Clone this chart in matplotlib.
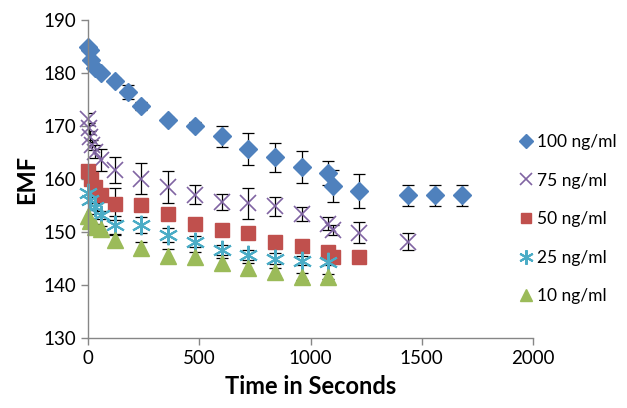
import numpy as np
import matplotlib.pyplot as plt

plt.rcParams['font.family'] = ['Lato', 'DejaVu Sans']

# 100 ng/ml
t100 = [0, 10, 15, 30, 60, 120, 180, 240, 360, 480, 600, 720, 840, 960, 1080, 1100, 1220, 1440, 1560, 1680]
emf100 = [185.0, 184.3, 182.5, 180.9, 180.0, 178.5, 176.5, 173.8, 171.1, 170.1, 168.1, 165.7, 164.1, 162.3,
          161.2, 158.7, 157.8, 156.9, 156.9, 156.9]
err100 = [0.4, 0.4, 0.4, 0.4, 0.4, 0.5, 1.3, 0.8, 0.6, 0.6, 2.0, 3.0, 2.7, 3.0, 2.3, 3.0, 3.2, 2.0, 2.0, 2.0]

# 75 ng/ml
t75 = [0, 5, 10, 20, 30, 60, 120, 240, 360, 480, 600, 720, 840, 960, 1080, 1100, 1220, 1440]
emf75 = [171.4, 169.6, 168.0, 166.4, 165.2, 163.6, 161.7, 160.1, 158.5, 157.0, 155.7, 155.4, 154.9, 153.4,
         151.6, 150.4, 149.9, 148.2]
err75 = [1.1, 1.0, 1.0, 1.0, 1.2, 2.0, 2.5, 3.0, 3.0, 1.8, 1.5, 2.9, 1.8, 1.4, 1.3, 1.0, 2.0, 1.6]

# 50 ng/ml
t50 = [0, 15, 30, 60, 120, 240, 360, 480, 600, 720, 840, 960, 1080, 1100, 1220]
emf50 = [161.5, 160.1, 158.5, 157.0, 155.3, 155.1, 153.5, 151.6, 150.4, 149.9, 148.2, 147.3, 146.3, 145.3, 145.3]
err50 = [0.5, 0.5, 0.5, 0.5, 3.0, 1.0, 1.0, 1.0, 0.8, 0.8, 0.5, 0.5, 0.5, 0.5, 0.5]

# 25 ng/ml
t25 = [0, 10, 30, 60, 120, 240, 360, 480, 600, 720, 840, 960, 1080]
emf25 = [157.3, 156.0, 154.8, 153.2, 151.4, 151.3, 149.4, 148.2, 146.6, 145.7, 145.0, 144.6, 144.4]
err25 = [0.6, 0.6, 0.6, 0.8, 1.7, 1.5, 1.3, 1.0, 1.0, 1.0, 1.0, 0.8, 0.6]

# 10 ng/ml
t10 = [0, 10, 30, 60, 120, 240, 360, 480, 600, 720, 840, 960, 1080]
emf10 = [153.0, 152.0, 151.0, 150.6, 148.5, 146.9, 145.5, 145.3, 144.1, 143.2, 142.5, 141.6, 141.6]
err10 = [0.5, 0.5, 0.5, 0.5, 1.0, 1.3, 1.3, 1.0, 1.0, 1.0, 0.8, 0.6, 0.5]

fig = plt.figure(figsize=(6.27, 4.08), dpi=100)
ax = fig.add_axes([0.1404, 0.1716, 0.7097, 0.779])

asterisk = (6, 2, 0)
series = [
    (t100, emf100, err100, "100 ng/ml", "#4F81BD", "D", 9, 1),
    (t75, emf75, err75, "75 ng/ml", "#8064A2", "x", 11, 1.2),
    (t50, emf50, err50, "50 ng/ml", "#C0504D", "s", 10.5, 1),
    (t25, emf25, err25, "25 ng/ml", "#4BACC6", asterisk, 14, 1.5),
    (t10, emf10, err10, "10 ng/ml", "#9BBB59", "^", 11, 1),
]

for t, v, e, lab, col, mk, ms, mew in series:
    ax.errorbar(t, v, yerr=e, fmt="none", ecolor="black", elinewidth=0.9, capsize=4, capthick=0.9, zorder=1)
    ax.plot(t, v, linestyle="none", marker=mk, markersize=ms, color=col, markeredgecolor=col,
            markeredgewidth=mew, label=lab, zorder=2, clip_on=False)

ax.set_xlim(0, 2000)
ax.set_ylim(130, 190)
ax.set_xticks(np.arange(0, 2001, 500))
ax.set_yticks(np.arange(130, 191, 10))
for side in ["top", "right"]:
    ax.spines[side].set_visible(False)
for side in ["left", "bottom"]:
    ax.spines[side].set_color("#868686")
    ax.spines[side].set_linewidth(1)
ax.tick_params(axis="both", colors="#868686", labelcolor="black", labelsize=13.5, length=5, width=1)
ax.set_xlabel("Time in Seconds", fontsize=17, fontweight="bold", labelpad=6)
ax.set_ylabel("EMF", fontsize=17, fontweight="bold", labelpad=4)

leg = ax.legend(loc="center left", bbox_to_anchor=(0.93, 0.374), frameon=False, fontsize=12.5,
                handletextpad=0.1, handlelength=1.0, labelspacing=1.3, markerscale=0.75)

fig.savefig("out.png", dpi=100)
